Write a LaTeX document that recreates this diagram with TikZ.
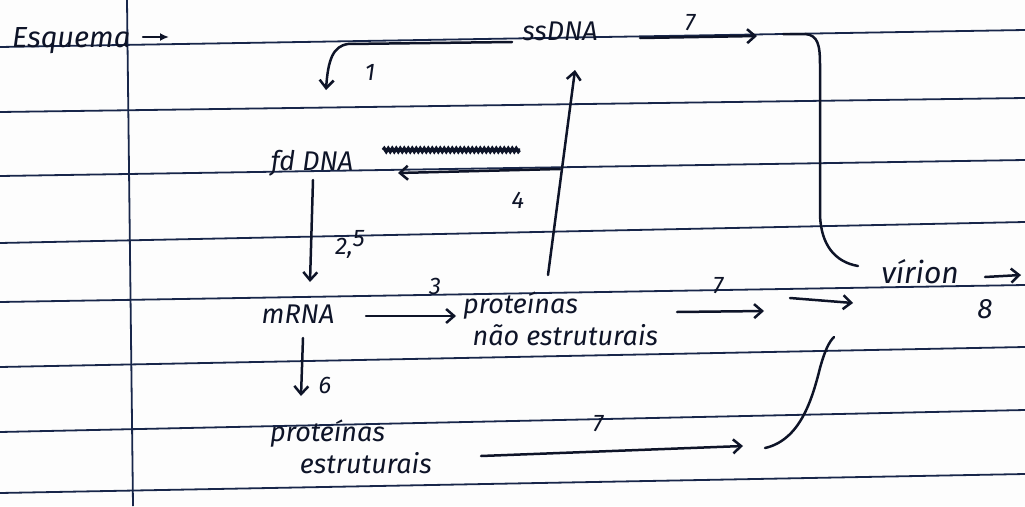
\documentclass[tikz,border=0pt]{standalone}
\usepackage{fontspec}
\setmainfont{Fira Sans}
\usetikzlibrary{arrows.meta,decorations.pathmorphing}
\definecolor{paper}{HTML}{FDFDFD}
\definecolor{ruling}{HTML}{18264A}
\definecolor{ink}{HTML}{0E1428}
\tikzset{
  rule/.style={ruling, line width=1.8pt},
  pen/.style={ink, line width=2.5pt, line cap=round},
  arr/.style={pen, -{Straight Barb[length=8pt,width=14pt]}},
  lbl/.style={ink, font=\fontsize{27}{31}\selectfont\itshape, inner sep=0pt},
  num/.style={ink, font=\fontsize{24}{26}\selectfont\itshape, inner sep=0pt},
}
\begin{document}
\begin{tikzpicture}[x=1pt,y=-1pt]
\fill[paper] (0,0) rectangle (1025,506);
\useasboundingbox (0,0) rectangle (1025,506);
% ruled paper
\foreach \l/\r in {47/30,112/98,176/160,243/222,302/285,367/347,432/410,493/474}
  \draw[rule] (0,\l) -- (1025,\r);
\draw[rule] (127,0) -- (133,506);

% texts
\node[lbl, anchor=base west, font=\fontsize{29}{32}\selectfont\itshape] (esq) at (12,47) {Esquema};
\node[lbl, anchor=base] (ss) at (560,40) {ssDNA};
\node[lbl, anchor=base] (fd) at (312,170) {fd DNA};
\node[lbl, anchor=base] (mrna) at (298,323) {mRNA};
\node[lbl, anchor=north west, align=left] (pne) at (463,292) {proteínas\\[1pt]\hspace{0.35em}não estruturais};
\node[lbl, anchor=north west, align=left] (pe) at (270,420) {proteínas\\[1pt]\hspace{1.1em}estruturais};
\node[lbl, anchor=base, font=\fontsize{30}{34}\selectfont\itshape] (vir) at (920,283) {vírion};

% named points
\coordinate (ea) at (143,37);
\coordinate (eb) at (169,37);
\coordinate (t7a) at (640,38);
\coordinate (t7b) at (757,36);
\coordinate (bra) at (783,34);
\coordinate (brb) at (858,266);
\coordinate (c1a) at (512,42);
\coordinate (c1b) at (326,90);
\coordinate (c4b) at (548,275);
\coordinate (c4t) at (575,70);
\coordinate (c4m) at (560,169);
\coordinate (c4e) at (398,173);
\coordinate (c25a) at (313,180);
\coordinate (c25b) at (310,282);
\coordinate (c3a) at (366,316);
\coordinate (c3b) at (456,316);
\coordinate (c6a) at (303,338);
\coordinate (c6b) at (301,396);
\coordinate (m7a) at (677,312);
\coordinate (m7b) at (764,311);
\coordinate (j7a) at (790,298);
\coordinate (j7b) at (853,303);
\coordinate (b7a) at (481,456);
\coordinate (b7b) at (743,446);
\coordinate (sa) at (765,448);
\coordinate (sb) at (834,337);
\coordinate (v8a) at (985,277);
\coordinate (v8b) at (1021,275);

% crossed-out word
\draw[ink, line width=3.4pt, decorate, decoration={snake, amplitude=1.5pt, segment length=4pt}] (383,150) -- (520,150);

% connectors
\draw[pen, -{Latex[length=9pt,width=8pt]}] (ea) -- (eb);
\draw[arr] (t7a) -- (t7b);
\draw[pen] (bra) -- (805,34) .. controls (818,35) and (820,45) .. (820,65) -- (820,215) .. controls (821,245) and (835,262) .. (brb);
\draw[arr] (c1a) -- (348,44) .. controls (333,46) and (328,60) .. (c1b);
\draw[arr] (c4b) -- (c4t);
\draw[arr] (c4m) -- (c4e);
\draw[arr] (c25a) -- (c25b);
\draw[arr] (c3a) -- (c3b);
\draw[arr] (c6a) -- (c6b);
\draw[arr] (m7a) -- (m7b);
\draw[arr] (j7a) -- (j7b);
\draw[arr] (b7a) -- (b7b);
\draw[pen] (sa) .. controls (800,440) and (812,400) .. (820,368) .. controls (825,350) and (829,342) .. (sb);
\draw[arr] (v8a) -- (v8b);

% step numbers
\node[num] (n7t) at (690,23) {7};
\node[num] (n1) at (370,72) {1};
\node[num] (n4) at (518,200) {4};
\node[num] (n25) at (350,244) {2,\raisebox{8pt}{5}};
\node[num] (n3) at (435,286) {3};
\node[num] (n7m) at (718,286) {7};
\node[num, font=\fontsize{28}{30}\selectfont\itshape] (n8) at (985,309) {8};
\node[num] (n6) at (325,385) {6};
\node[num] (n7b) at (598,424) {7};
\end{tikzpicture}
\end{document}
